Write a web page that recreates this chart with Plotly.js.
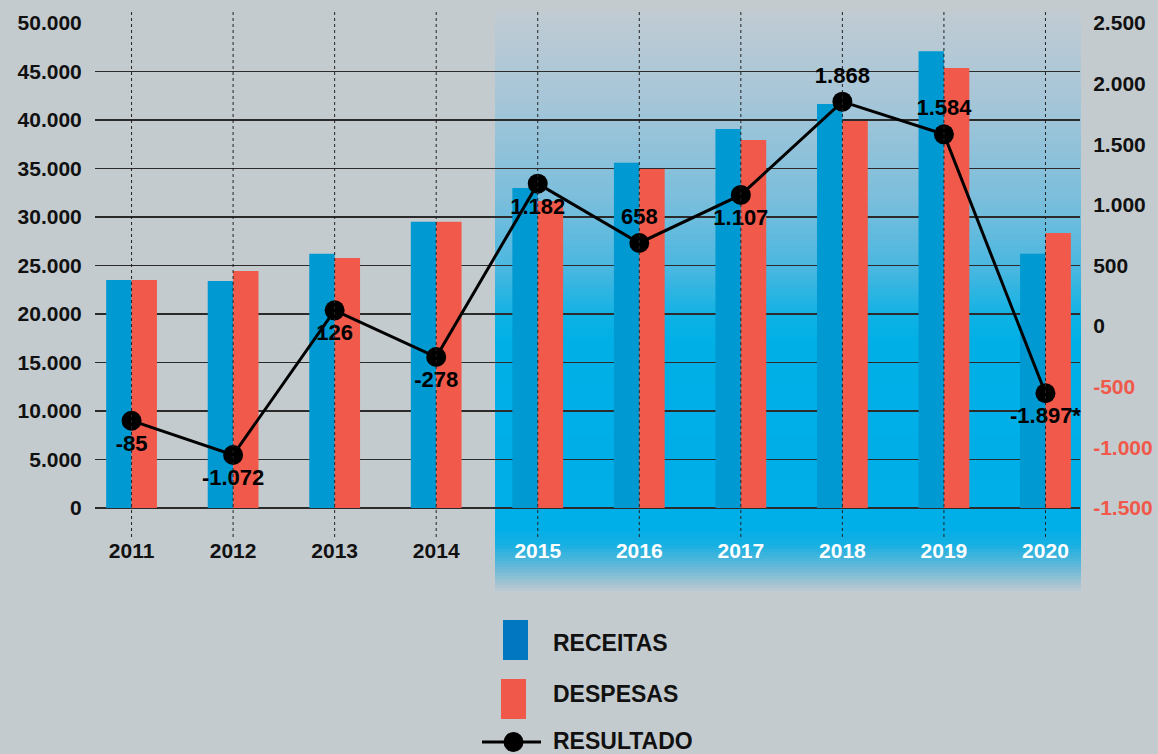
<!DOCTYPE html>
<html>
<head>
<meta charset="utf-8">
<script src="https://cdn.plot.ly/plotly-3.0.1.min.js"></script>
<style>html,body{margin:0;padding:0;background:#c4cbcf;}#chart{width:1158px;height:754px;}</style>
</head>
<body>
<div id="chart"></div>
<script>
// ---- data ----
const years = ['2011','2012','2013','2014','2015','2016','2017','2018','2019','2020'];
const receitas = [23500, 23400, 26200, 29500, 33000, 35600, 39070, 41650, 47100, 26200];
const despesas = [23500, 24430, 25770, 29500, 31650, 34950, 37940, 39900, 45360, 28350];
// resultado as plotted (position) and its printed labels
const resultado = [-780, -1063, 130, -255, 1175, 686, 1082, 1851, 1582, -554];
const resultadoLabels = ['-85','-1.072','126','-278','1.182','658','1.107','1.868','1.584','-1.897*'];
const labelPos = ['bottom center','bottom center','bottom center','bottom center','bottom center','top center','bottom center','top center','top center','bottom center'];
const leftTicks = [0,5000,10000,15000,20000,25000,30000,35000,40000,45000,50000];
const leftTickText = ['0','5.000','10.000','15.000','20.000','25.000','30.000','35.000','40.000','45.000','50.000'];
const rightTicks = [-1500,-1000,-500,0,500,1000,1500,2000,2500];
const rightTickText = ['-1.500','-1.000','-500','0','500','1.000','1.500','2.000','2.500'];
const legendNames = ['RECEITAS','DESPESAS','RESULTADO'];

// ---- style ----
const FONT = 'Liberation Sans, Arial, Helvetica, sans-serif';
const BG = '#c4cbcf';
const BLUE = '#0099d1';
const RED = '#f1594a';
const NEG = '#f0584a';
const W = 1158, H = 754, ML = 95, MR = 78, MT = 23, MB = 246;
const PW = W - ML - MR, PH = H - MT - MB;
const px2x = p => (p - ML) / PW;
const py2y = p => (H - MB - p) / PH;

const shapes = [];
// gradient highlight (2015-2020)
const stops = [[12,[192,203,211]],[100,[166,198,216]],[200,[122,190,220]],[270,[72,183,224]],[318,[14,178,228]],[340,[0,175,230]],[528,[0,174,232]],[545,[24,176,226]],[570,[112,186,214]],[592,[194,203,208]]];
function colAt(p){
  for(let i=0;i<stops.length-1;i++){
    const [a,ca]=stops[i],[b,cb]=stops[i+1];
    if(p>=a && p<=b){const t=(p-a)/(b-a);return 'rgb('+ca.map((v,k)=>Math.round(v+(cb[k]-v)*t)).join(',')+')';}
  }
  return 'rgb('+stops[stops.length-1][1].join(',')+')';
}
for(let p=12;p<592;p+=3){
  shapes.push({type:'rect',xref:'paper',yref:'paper',x0:px2x(495),x1:px2x(1081),y0:py2y(p+3.5),y1:py2y(p),
    fillcolor:colAt(p+1.5),line:{width:0},layer:'below'});
}
// dotted vertical lines at each category
years.forEach((y,i)=>{
  shapes.push({type:'line',xref:'x',yref:'paper',x0:i,x1:i,y0:py2y(537),y1:py2y(12),
    line:{color:'#222',width:1,dash:'dot'},layer:'above'});
});
// custom legend swatches
shapes.push({type:'rect',xref:'paper',yref:'paper',x0:px2x(503),x1:px2x(528),y0:py2y(660),y1:py2y(620),fillcolor:'#0077c0',line:{width:0}});
shapes.push({type:'rect',xref:'paper',yref:'paper',x0:px2x(501),x1:px2x(526),y0:py2y(719),y1:py2y(679),fillcolor:NEG,line:{width:0}});
shapes.push({type:'line',xref:'paper',yref:'paper',x0:px2x(482),x1:px2x(541),y0:py2y(742),y1:py2y(742),line:{color:'#000',width:3}});
shapes.push({type:'circle',xref:'paper',yref:'paper',x0:px2x(503.5),x1:px2x(523.5),y0:py2y(752),y1:py2y(732),fillcolor:'#000',line:{width:0}});

const annotations = legendNames.map((n,i)=>({
  xref:'paper',yref:'paper',x:px2x(551),y:py2y([643,694,741][i]),xanchor:'left',yanchor:'middle',
  text:n,showarrow:false,font:{family:FONT,size:23,color:'#111',weight:'bold'}
}));

const xTickText = years.map((y,i)=> i>=4 ? '<span style="color:#ffffff">'+y+'</span>' : y);
const rTickText = rightTicks.map((v,i)=> v<0 ? '<span style="color:'+NEG+'">'+rightTickText[i]+'</span>' : rightTickText[i]);

const traces = [
  {type:'bar',name:legendNames[0],x:years,y:receitas,marker:{color:BLUE},yaxis:'y',hoverinfo:'skip'},
  {type:'bar',name:legendNames[1],x:years,y:despesas,marker:{color:RED},yaxis:'y',hoverinfo:'skip'},
  {type:'scatter',name:legendNames[2],x:years,y:resultado,yaxis:'y2',mode:'lines+markers+text',
   line:{color:'#000',width:3},marker:{color:'#000',size:20},
   text:resultadoLabels,textposition:labelPos,cliponaxis:false,
   textfont:{family:FONT,size:22,color:'#000',weight:'bold'},hoverinfo:'skip'}
];

const layout = {
  width:W,height:H,
  margin:{l:ML,r:MR,t:MT,b:MB,pad:0},
  paper_bgcolor:BG,plot_bgcolor:'rgba(0,0,0,0)',
  showlegend:false,
  barmode:'group',bargap:0.5,bargroupgap:0,
  font:{family:FONT,size:21,color:'#111',weight:'bold'},
  xaxis:{type:'category',range:[-0.36,9.34],tickvals:years,ticktext:xTickText,
    showgrid:false,zeroline:false,showline:false,ticks:'outside',ticklen:24,tickcolor:'rgba(0,0,0,0)',
    tickfont:{family:FONT,size:21,color:'#111',weight:'bold'}},
  yaxis:{range:[0,50000],tickvals:leftTicks,ticktext:leftTickText,showgrid:true,gridcolor:'#2b2b2b',gridwidth:1.5,
    zeroline:true,zerolinecolor:'#2b2b2b',zerolinewidth:1.5,showline:false,ticks:'outside',ticklen:8,tickcolor:'rgba(0,0,0,0)',
    tickfont:{family:FONT,size:21,color:'#111',weight:'bold'}},
  yaxis2:{range:[-1500,2500],overlaying:'y',side:'right',tickvals:rightTicks,ticktext:rTickText,showgrid:false,
    zeroline:false,showline:false,ticks:'outside',ticklen:8,tickcolor:'rgba(0,0,0,0)',
    tickfont:{family:FONT,size:21,color:'#111',weight:'bold'}},
  shapes:shapes,
  annotations:annotations
};

Plotly.newPlot('chart',traces,layout,{staticPlot:true,displayModeBar:false});
</script>
</body>
</html>
